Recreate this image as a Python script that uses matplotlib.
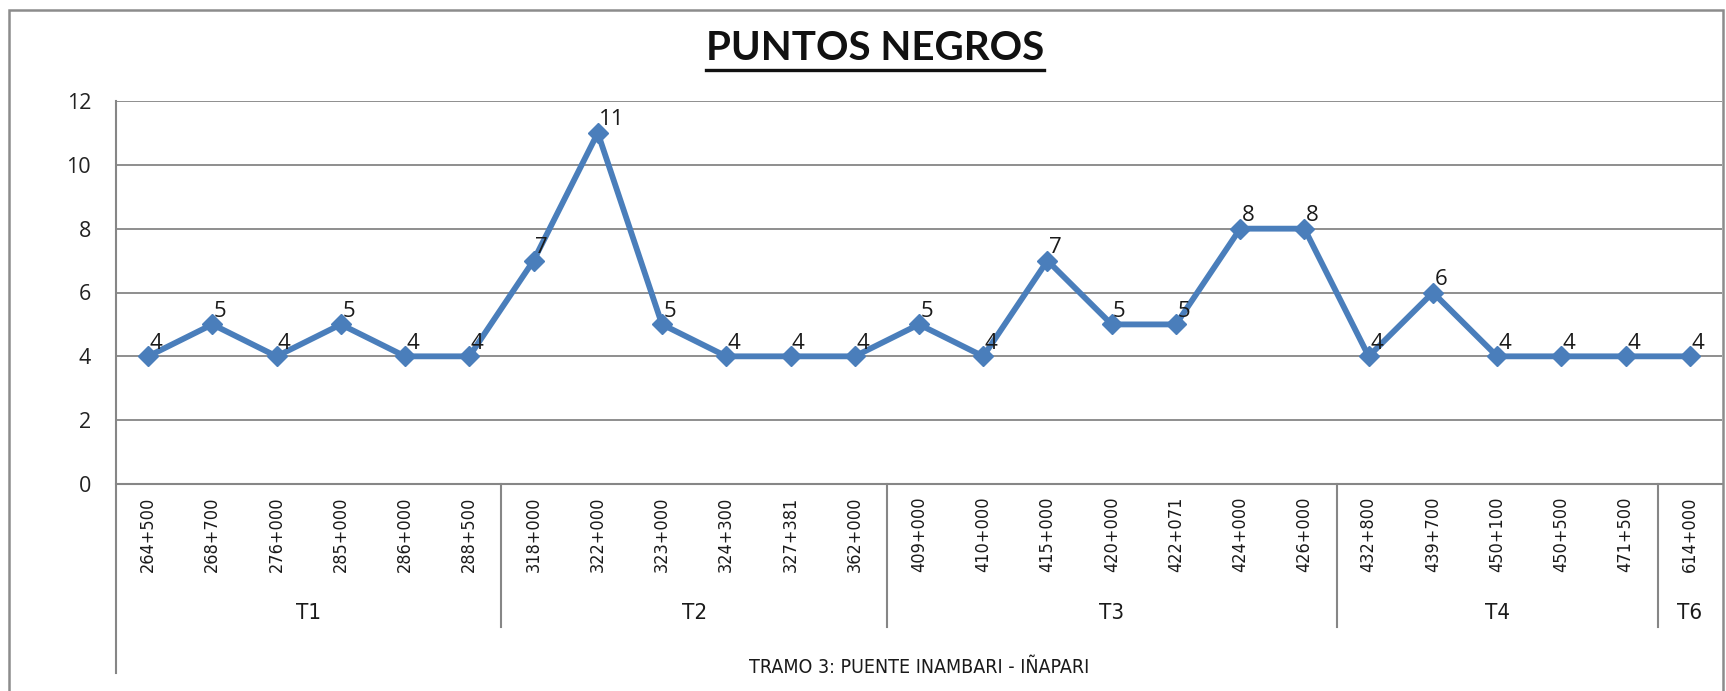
import matplotlib
matplotlib.use("Agg")
import matplotlib.pyplot as plt
from matplotlib.lines import Line2D
from matplotlib.patches import Rectangle

# datos del grafico
progresivas = ["264+500", "268+700", "276+000", "285+000", "286+000", "288+500",
               "318+000", "322+000", "323+000", "324+300", "327+381", "362+000",
               "409+000", "410+000", "415+000", "420+000", "422+071", "424+000", "426+000",
               "432+800", "439+700", "450+100", "450+500", "471+500",
               "614+000"]
puntos = [4, 5, 4, 5, 4, 4,
          7, 11, 5, 4, 4, 4,
          5, 4, 7, 5, 5, 8, 8,
          4, 6, 4, 4, 4,
          4]
tramos = ["T1", "T2", "T3", "T4", "T6"]
tramo_size = [6, 6, 7, 5, 1]
titulo = "PUNTOS NEGROS"
subtitulo = "TRAMO 3: PUENTE INAMBARI - IÑAPARI"

W, H = 1726, 691
fig = plt.figure(figsize=(W / 100, H / 100), dpi=100)
ax = fig.add_axes([116 / W, 1 - 484 / H, (1722 - 116) / W, (484 - 101) / H])

grey = "#868686"
blue = "#4A7EBB"
body = ["Open Sans", "DejaVu Sans"]
cond = dict(family="DejaVu Sans", fontstretch="condensed")

x = list(range(len(puntos)))
ax.plot(x, puntos, color=blue, lw=4.2, marker="D", ms=10, zorder=3)
for xi, yi in zip(x, puntos):
    ax.annotate(str(yi), (xi, yi), xytext=(1, 2), textcoords="offset points",
                ha="left", va="bottom", fontsize=16, family=body, color="#1a1a1a")

ax.set_xlim(-0.5, len(puntos) - 0.5)
ax.set_ylim(0, 12)
ax.set_yticks(range(0, 13, 2))
ax.yaxis.grid(True, color=grey, lw=1.3)
ax.set_axisbelow(True)
for s in ["top", "right", "bottom", "left"]:
    ax.spines[s].set_visible(False)
ax.tick_params(axis="y", length=0, pad=18, labelsize=15.5)
for lab in ax.get_yticklabels():
    lab.set_family(body)
    lab.set_color("#222222")

ax.set_xticks(x)
ax.set_xticklabels(progresivas, rotation=90, fontsize=13, va="top", color="#1a1a1a", **cond)
ax.tick_params(axis="x", length=0, pad=9)

trans = ax.get_xaxis_transform()
# eje izquierdo y separadores de tramos
ax.add_line(Line2D([-0.5, -0.5], [1, -0.493], transform=trans, color=grey, lw=1.5, clip_on=False))
ax.add_line(Line2D([-0.5, len(puntos) - 0.5], [0, 0], transform=trans, color=grey, lw=1.5, clip_on=False))
start = 0
for i, (t, n) in enumerate(zip(tramos, tramo_size)):
    ax.text(start + (n - 1) / 2, -0.337, t, transform=trans, ha="center", va="center",
            fontsize=16, color="#1a1a1a", **cond)
    start += n
    if i < len(tramos) - 1:
        ax.add_line(Line2D([start - 0.5, start - 0.5], [0, -0.373], transform=trans,
                           color=grey, lw=1.5, clip_on=False))
ax.text((len(puntos) - 1) / 2, -0.48, subtitulo, transform=trans, ha="center", va="center",
        fontsize=14, color="#1a1a1a", **cond)

# borde exterior
fig.patches.append(Rectangle((9 / W, -0.1), (1723 - 9) / W, 1.1 - 10 / H,
                             transform=fig.transFigure, fill=False, ec="#8c8c8c", lw=1.8))

t = fig.text(0.507, 1 - 48 / H, titulo, ha="center", va="center", fontsize=29,
             fontweight="bold", family=["Lato", "DejaVu Sans"], color="#111111")
fig.canvas.draw()
bb = t.get_window_extent().transformed(fig.transFigure.inverted())
fig.add_artist(Line2D([bb.x0, bb.x1], [1 - 70 / H] * 2, transform=fig.transFigure,
                      color="#111111", lw=2.4))

fig.savefig("out.png", dpi=100)
